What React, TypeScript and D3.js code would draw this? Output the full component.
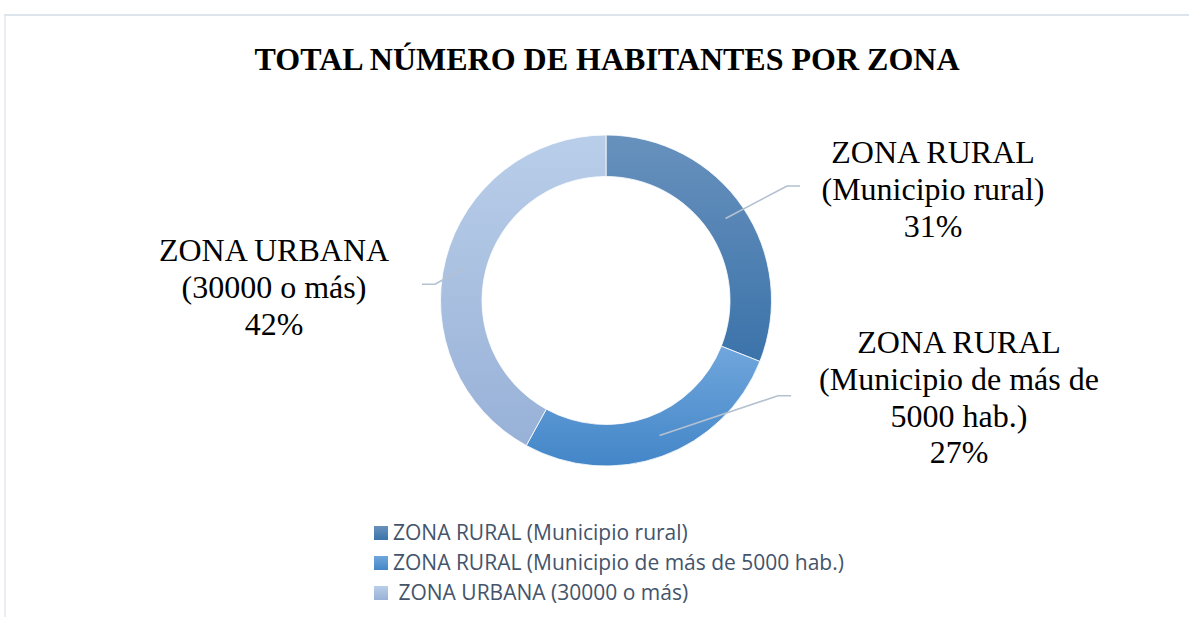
import * as d3 from 'd3'

const categories = [
  'ZONA RURAL (Municipio rural)',
  'ZONA RURAL (Municipio de más de 5000 hab.)',
  'ZONA URBANA (30000 o más)',
]
const values = [31, 27, 42]
const legendLabels = [
  'ZONA RURAL (Municipio rural)',
  'ZONA RURAL (Municipio de más de 5000 hab.)',
  ' ZONA URBANA (30000 o más)',
]
const labelLines = [
  ['ZONA RURAL', '(Municipio rural)', '31%'],
  ['ZONA RURAL', '(Municipio de más de', '5000 hab.)', '27%'],
  ['ZONA URBANA', '(30000 o más)', '42%'],
]
const gradTop = ['#6891bd', '#70a6dc', '#b9cee9']
const gradBottom = ['#3b73aa', '#4386c8', '#98b1d7']

const W = 1189
const H = 617
const cx = 606
const cy = 300.5
const outerR = 165.5
const innerR = 124

// label block placement (centre x, first baseline y) and leader elbows
const labelPos = [
  { x: 933, y: 163 },
  { x: 959, y: 353 },
  { x: 274, y: 261 },
]
const leaders = [
  { from: [725.5, 218.5], elbow: [787, 186], end: [800, 186] },
  { from: [659.5, 435.5], elbow: [778, 395.7], end: [791, 395.7] },
  { from: [465, 267.7], elbow: [435, 284.3], end: [422, 284.3] },
]

export default function App() {
  const pie = d3.pie<number>().value((d) => d).sort(null)
  const arc = d3.arc<d3.PieArcDatum<number>>().innerRadius(innerR).outerRadius(outerR)
  const arcs = pie(values)

  return (
    <div style={{ position: 'absolute', left: 0, top: 0 }}>
      <svg width={W} height={H} style={{ display: 'block', background: '#fff' }}>
        <defs>
          {values.map((_, i) => (
            <linearGradient key={i} id={`g${i}`} x1="0" y1="0" x2="0" y2="1">
              <stop offset="0" stopColor={gradTop[i]} />
              <stop offset="1" stopColor={gradBottom[i]} />
            </linearGradient>
          ))}
        </defs>
        <line x1={4} y1={15} x2={W} y2={15} stroke="#dde4ec" strokeWidth={2} />
        <line x1={5} y1={15} x2={5} y2={H} stroke="#e3e8ee" strokeWidth={1.5} />

        <text
          x={607}
          y={70}
          textAnchor="middle"
          fontFamily="'Liberation Serif', 'Times New Roman', serif"
          fontWeight="bold"
          fontSize={32}
          fill="#000"
        >
          TOTAL NÚMERO DE HABITANTES POR ZONA
        </text>

        <g transform={`translate(${cx},${cy})`}>
          {arcs.map((a, i) => (
            <path key={categories[i]} d={arc(a) || ''} fill={`url(#g${i})`} stroke="#ffffff" strokeWidth={0.8} />
          ))}
        </g>

        {leaders.map((l, i) => (
          <polyline
            key={i}
            points={[l.from, l.elbow, l.end].map((p) => p.join(',')).join(' ')}
            fill="none"
            stroke="#b3c1d1"
            strokeWidth={1.6}
          />
        ))}

        {labelLines.map((lines, i) => (
          <text
            key={i}
            textAnchor="middle"
            fontFamily="'Liberation Serif', 'Times New Roman', serif"
            fontSize={32}
            fill="#000"
          >
            {lines.map((t, j) => (
              <tspan key={j} x={labelPos[i].x} y={labelPos[i].y + j * 36.8}>
                {t}
              </tspan>
            ))}
          </text>
        ))}

        {legendLabels.map((t, i) => (
          <g key={t} transform={`translate(374,${526 + i * 30})`}>
            <rect width={14} height={14} fill={`url(#g${i})`} />
            <text
              x={19}
              y={14}
              fontFamily="'Open Sans', sans-serif"
              fontSize={21}
              fill="#44546a"
              style={{ whiteSpace: 'pre' }}
            >
              {t}
            </text>
          </g>
        ))}
      </svg>
    </div>
  )
}
